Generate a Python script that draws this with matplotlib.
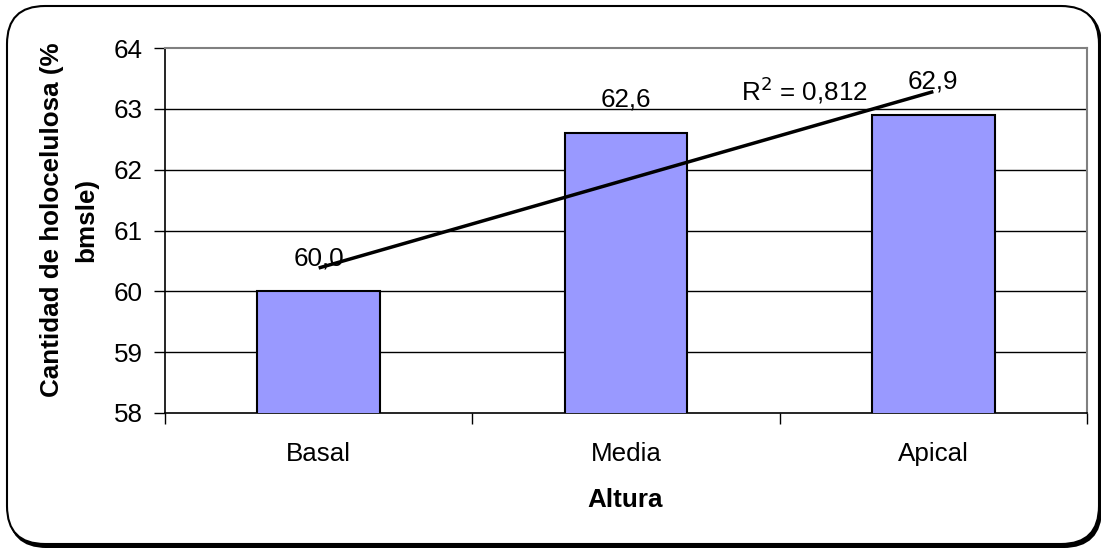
import matplotlib
matplotlib.use("Agg")
import matplotlib.pyplot as plt
import numpy as np
from matplotlib.patches import FancyBboxPatch

plt.rcParams['font.family'] = ['Liberation Sans', 'DejaVu Sans']

# Holocellulose content by stem height
categories = ["Basal", "Media", "Apical"]
values = [60.0, 62.6, 62.9]
value_labels = ["60,0", "62,6", "62,9"]
r2_text = "R$^2$ = 0,812"
y_ticks = [58, 59, 60, 61, 62, 63, 64]

W, H = 1101, 548
fig = plt.figure(figsize=(W / 100, H / 100), dpi=100)

# Rounded outer frame with a small drop shadow, drawn in pixel units
bg = fig.add_axes([0, 0, 1, 1], zorder=-5)
bg.set_xlim(0, W)
bg.set_ylim(H, 0)
bg.axis("off")
shadow = FancyBboxPatch((9, 8), 1092, 539, boxstyle="round,pad=0,rounding_size=38",
                        facecolor="black", edgecolor="black", linewidth=1.5)
frame = FancyBboxPatch((7, 6), 1092, 538, boxstyle="round,pad=0,rounding_size=38",
                       facecolor="white", edgecolor="black", linewidth=1.5)
bg.add_patch(shadow)
bg.add_patch(frame)

fs = 18.7
ax = fig.add_axes([165 / W, 1 - 413 / H, (1087 - 165) / W, (413 - 48) / H])
ax.set_facecolor("white")

x = np.arange(len(categories))
bars = ax.bar(x, values, width=0.40, color="#9999FF", edgecolor="black",
              linewidth=1.5, zorder=3, bottom=0)

ax.set_ylim(58, 64)
ax.set_xlim(-0.5, len(categories) - 0.5)
ax.set_yticks(y_ticks)
ax.set_yticklabels([str(t) for t in y_ticks], fontsize=fs)
ax.tick_params(axis="y", length=8, width=1, pad=8, direction="out")

# Category boundaries carry the tick marks, centres carry the names
ax.set_xticks(np.arange(len(categories) + 1) - 0.5)
ax.set_xticklabels([])
ax.tick_params(axis="x", which="major", length=8, width=1, direction="out")
ax.set_xticks(x, minor=True)
ax.set_xticklabels(categories, minor=True, fontsize=fs)
ax.tick_params(axis="x", which="minor", length=0, pad=21)

for t in y_ticks[1:-1]:
    ax.axhline(t, color="black", linewidth=1, zorder=1)

ax.spines["left"].set_color("black")
ax.spines["bottom"].set_color("black")
ax.spines["left"].set_linewidth(1.2)
ax.spines["bottom"].set_linewidth(1.2)
for s in ("top", "right"):
    ax.spines[s].set_color("#808080")
    ax.spines[s].set_linewidth(1.5)

for xi, v, lab in zip(x, values, value_labels):
    ax.annotate(lab, (xi, v), xytext=(0, 24), textcoords="offset points",
                ha="center", va="center", fontsize=fs, zorder=6)

# Linear trend line across the three heights
coef = np.polyfit(x, values, 1)
ax.plot(x[[0, -1]], np.polyval(coef, x[[0, -1]]), color="black",
        linewidth=2.5, zorder=5, solid_capstyle="butt")
ax.text(1.58, 63.3, r2_text, ha="center", va="center", fontsize=fs, zorder=6)

fig.text(69 / W, 1 - 220 / H, "Cantidad de holocelulosa (%\nbmsle)",
         rotation=90, ha="center", va="center", fontsize=fs,
         fontweight="bold", linespacing=1.5, multialignment="center")
fig.text(625 / W, 1 - 500 / H, "Altura", ha="center", va="center",
         fontsize=fs, fontweight="bold")

fig.savefig("out.png", dpi=100)
